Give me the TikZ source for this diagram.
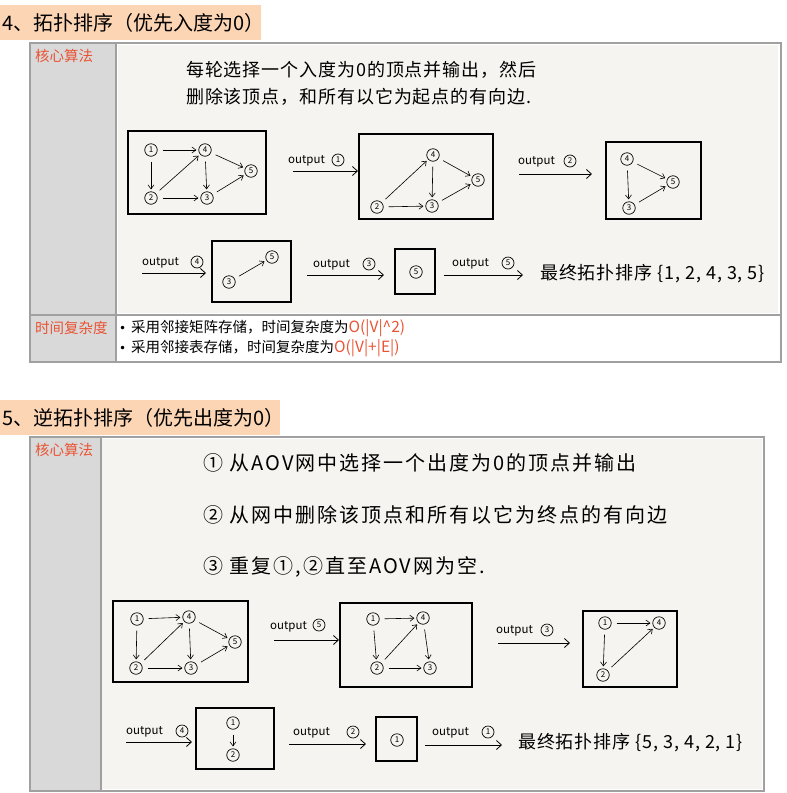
\documentclass[tikz,border=0pt]{standalone}
\usepackage{fontspec}
\setmainfont{Noto Sans CJK SC}
\newfontfamily\handA[LetterSpace=5]{Noto Sans CJK SC}
\newfontfamily\handB[LetterSpace=10]{Noto Sans CJK SC}
\newfontfamily\dejavu{DejaVu Sans}
\usetikzlibrary{arrows.meta}
\definecolor{peach}{RGB}{252,213,180}
\definecolor{hired}{RGB}{233,84,52}
\definecolor{colgray}{RGB}{217,217,217}
\definecolor{bordergray}{RGB}{160,160,160}
\definecolor{paper}{RGB}{246,244,240}
\tikzset{
  vtx/.style={circle, draw, line width=0.7pt, minimum size=12.5pt, inner sep=0pt, font=\fontsize{8}{8}\selectfont},
  gedge/.style={-{Straight Barb[length=4pt,width=6pt]}, line width=0.6pt, shorten <=5pt, shorten >=2pt},
  gbox/.style={draw, line width=1.2pt},
  outarrow/.style={-{Straight Barb[length=5pt,width=9pt]}, line width=0.8pt},
  outlbl/.style={inner sep=0pt, font=\fontsize{11.5}{11.5}\selectfont},
  cnum/.style={circle, draw, line width=0.7pt, minimum size=12pt, inner sep=0pt, font=\fontsize{8}{8}\selectfont},
  headtxt/.style={anchor=west, inner sep=0pt, font=\fontsize{20}{24}\selectfont},
  celltxt/.style={anchor=west, inner sep=0pt, text=hired, font=\fontsize{14.5}{16}\selectfont},
  bullettxt/.style={anchor=west, inner sep=0pt, font=\fontsize{14.5}{16}\selectfont},
  latintxt/.style={},
  bulletdot/.style={anchor=west, inner sep=0pt, font=\dejavu\fontsize{12}{14}\selectfont},
  handfour/.style={anchor=west, inner sep=0pt, font=\handA\fontsize{18}{20}\selectfont},
  handfive/.style={anchor=west, inner sep=0pt, font=\handB\fontsize{20}{22}\selectfont},
  finaltxt/.style={anchor=west, inner sep=0pt, font=\handA\fontsize{18}{20}\selectfont},
}
\begin{document}
\begin{tikzpicture}[x=1pt,y=-1pt]
\useasboundingbox (0,0) rectangle (787,793);
\fill[white] (0,0) rectangle (787,793);

% ================= Section 4 =================
\fill[peach] (0,5) rectangle (261,40);
\node[headtxt] (h4) at (2,22.5) {4、拓扑排序（优先入度为0）};

\fill[colgray] (30,43) rectangle (116,362);
\fill[white] (116,43) rectangle (781,362);
\fill[paper] (118,45) rectangle (778,313);
\draw[bordergray, line width=1.2pt] (30,43) rectangle (781,362);
\draw[bordergray, line width=1.2pt] (116,43) -- (116,362);
\draw[bordergray, line width=1.2pt] (30,315) -- (781,315);

\node[celltxt] (k4) at (35,56) {核心算法};
\node[celltxt] (t4) at (35,328) {时间复杂度};
\node[bulletdot] (b1dot) at (119,329) {•};
\node[bullettxt] (b1) at (131,328) {采用邻接矩阵存储，时间复杂度为\textcolor{hired}{\fontsize{15.5}{16}\selectfont O(|V|\^{}2)}};
\node[bulletdot] (b2dot) at (119,349) {•};
\node[bullettxt] (b2) at (131,348) {采用邻接表存储，时间复杂度为\textcolor{hired}{\fontsize{15.5}{16}\selectfont O(|V|+|E|)}};

\node[handfour] (l41) at (186,70) {每轮选择一个入度为0的顶点并输出，然后};
\node[handfour] (l42) at (186,97) {删除该顶点，和所有以它为起点的有向边.};

% graph 1
\draw[gbox] (128,131) rectangle (266,214);
\node[vtx] (n1) at (151,150) {1};
\node[vtx] (n4) at (205,150) {4};
\node[vtx] (n5) at (251,171) {5};
\node[vtx] (n2) at (151,198) {2};
\node[vtx] (n3) at (207,198) {3};
\draw[gedge] (n1) -- (n4);
\draw[gedge] (n1) -- (n2);
\draw[gedge] (n2) -- (n4);
\draw[gedge] (n2) -- (n3);
\draw[gedge] (n4) -- (n3);
\draw[gedge] (n4) -- (n5);
\draw[gedge] (n3) -- (n5);

% arrow output 1
\coordinate (o1s) at (293,171);
\coordinate (o1e) at (358,171);
\draw[outarrow] (o1s) -- (o1e);
\node[outlbl, anchor=west] (o1t) at (288,161) {output};
\node[cnum] (o1c) at (338,160) {1};

% graph 2
\draw[gbox] (359,134) rectangle (493,219);
\node[vtx] (m4) at (433,155) {4};
\node[vtx] (m5) at (478,180) {5};
\node[vtx] (m2) at (377,207) {2};
\node[vtx] (m3) at (432,206) {3};
\draw[gedge] (m2) -- (m4);
\draw[gedge] (m2) -- (m3);
\draw[gedge] (m4) -- (m3);
\draw[gedge] (m4) -- (m5);
\draw[gedge] (m3) -- (m5);

% arrow output 2
\coordinate (o2s) at (519,174);
\coordinate (o2e) at (592,174);
\draw[outarrow] (o2s) -- (o2e);
\node[outlbl, anchor=west] (o2t) at (518,162) {output};
\node[cnum] (o2c) at (570,161) {2};

% graph 3
\draw[gbox] (606,142) rectangle (701,219);
\node[vtx] (p4) at (627,159) {4};
\node[vtx] (p5) at (673,182) {5};
\node[vtx] (p3) at (629,208) {3};
\draw[gedge] (p4) -- (p3);
\draw[gedge] (p4) -- (p5);
\draw[gedge] (p3) -- (p5);

% row 2, arrow output 4
\coordinate (o3s) at (142,273);
\coordinate (o3e) at (206,273);
\draw[outarrow] (o3s) -- (o3e);
\node[outlbl, anchor=west] (o3t) at (142,263) {output};
\node[cnum] (o3c) at (197,262) {4};

\draw[gbox] (212,241) rectangle (291,302);
\node[vtx] (q5) at (272,257) {5};
\node[vtx] (q3) at (229,282) {3};
\draw[gedge] (q3) -- (q5);

\coordinate (o4s) at (307,275);
\coordinate (o4e) at (384,275);
\draw[outarrow] (o4s) -- (o4e);
\node[outlbl, anchor=west] (o4t) at (313,265) {output};
\node[cnum] (o4c) at (369,264) {3};

\draw[gbox] (395,249) rectangle (435,294);
\node[vtx] (r5) at (416,272) {5};

\coordinate (o5s) at (444,275);
\coordinate (o5e) at (523,275);
\draw[outarrow] (o5s) -- (o5e);
\node[outlbl, anchor=west] (o5t) at (452,264) {output};
\node[cnum] (o5c) at (508,263) {5};

\node[finaltxt] (f4) at (540,274) {最终拓扑排序 \{1, 2, 4, 3, 5\}};

% ================= Section 5 =================
\fill[peach] (0,400) rectangle (280,435);
\node[headtxt] (h5) at (2,417.5) {5、逆拓扑排序（优先出度为0）};

\fill[colgray] (30,437) rectangle (101,791);
\fill[paper] (102,439) rectangle (762,789);
\draw[bordergray, line width=1.2pt] (30,437) rectangle (764,791);
\draw[bordergray, line width=1.2pt] (101,437) -- (101,791);

\node[celltxt] (k5) at (35,450) {核心算法};

\node[handfive] (l51) at (203,463) {①\ 从AOV网中选择一个出度为0的顶点并输出};
\node[handfive] (l52) at (203,515) {②\ 从网中删除该顶点和所有以它为终点的有向边};
\node[handfive] (l53) at (203,567) {③\ 重复①,②直至AOV网为空.};

% graph A
\draw[gbox] (113,601) rectangle (248,682);
\node[vtx] (a1) at (137,619) {1};
\node[vtx] (a4) at (189,617) {4};
\node[vtx] (a5) at (235,642) {5};
\node[vtx] (a2) at (136,668) {2};
\node[vtx] (a3) at (191,668) {3};
\draw[gedge] (a1) -- (a4);
\draw[gedge] (a1) -- (a2);
\draw[gedge] (a2) -- (a4);
\draw[gedge] (a2) -- (a3);
\draw[gedge] (a4) -- (a3);
\draw[gedge] (a4) -- (a5);
\draw[gedge] (a3) -- (a5);

\coordinate (s1s) at (274,640);
\coordinate (s1e) at (339,640);
\draw[outarrow] (s1s) -- (s1e);
\node[outlbl, anchor=west] (s1t) at (270,627) {output};
\node[cnum] (s1c) at (319,625) {5};

% graph B
\draw[gbox] (340,603) rectangle (472,687);
\node[vtx] (bb1) at (373,619) {1};
\node[vtx] (bb4) at (423,618) {4};
\node[vtx] (bb2) at (377,668) {2};
\node[vtx] (bb3) at (430,668) {3};
\draw[gedge] (bb1) -- (bb4);
\draw[gedge] (bb1) -- (bb2);
\draw[gedge] (bb2) -- (bb4);
\draw[gedge] (bb2) -- (bb3);
\draw[gedge] (bb4) -- (bb3);

\coordinate (s2s) at (498,643);
\coordinate (s2e) at (570,643);
\draw[outarrow] (s2s) -- (s2e);
\node[outlbl, anchor=west] (s2t) at (496,631) {output};
\node[cnum] (s2c) at (547,630) {3};

% graph C
\draw[gbox] (583,611) rectangle (677,687);
\node[vtx] (c1) at (605,623) {1};
\node[vtx] (c4) at (659,623) {4};
\node[vtx] (c2) at (603,675) {2};
\draw[gedge] (c1) -- (c4);
\draw[gedge] (c1) -- (c2);
\draw[gedge] (c2) -- (c4);

% row 2
\coordinate (s3s) at (126,742);
\coordinate (s3e) at (192,742);
\draw[outarrow] (s3s) -- (s3e);
\node[outlbl, anchor=west] (s3t) at (126,732) {output};
\node[cnum] (s3c) at (182,731) {4};

\draw[gbox] (196,708) rectangle (274,769);
\node[vtx] (d1) at (233,723) {1};
\node[vtx] (d2) at (233,755) {2};
\draw[gedge] (d1) -- (d2);

\coordinate (s4s) at (289,744);
\coordinate (s4e) at (366,744);
\draw[outarrow] (s4s) -- (s4e);
\node[outlbl, anchor=west] (s4t) at (293,733) {output};
\node[cnum] (s4c) at (353,732) {2};

\draw[gbox] (376,717) rectangle (417,761);
\node[vtx] (e1) at (397,740) {1};

\coordinate (s5s) at (425,745);
\coordinate (s5e) at (502,745);
\draw[outarrow] (s5s) -- (s5e);
\node[outlbl, anchor=west] (s5t) at (432,733) {output};
\node[cnum] (s5c) at (488,732) {1};

\node[finaltxt] (f5) at (518,743) {最终拓扑排序 \{5, 3, 4, 2, 1\}};
\end{tikzpicture}
\end{document}
